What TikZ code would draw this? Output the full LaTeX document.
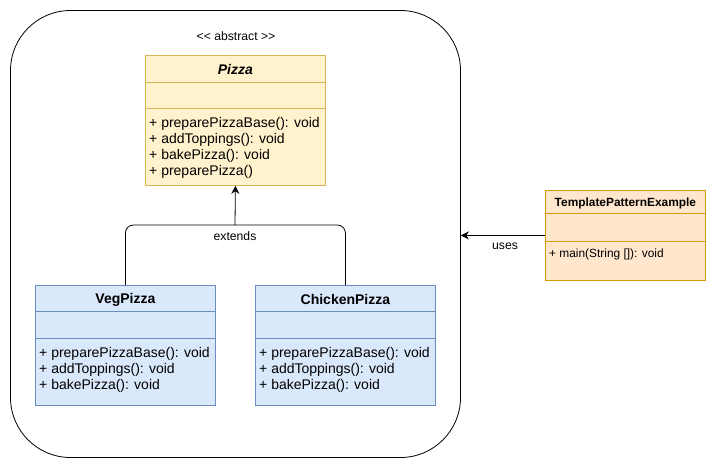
\documentclass[tikz,border=0pt]{standalone}
\usepackage{fontspec}
\setmainfont{Liberation Sans}
\usetikzlibrary{calc,arrows.meta}
\definecolor{pizzafill}{HTML}{FFF2CC}
\definecolor{pizzaline}{HTML}{D6B656}
\definecolor{bluefill}{HTML}{DAE8FC}
\definecolor{blueline}{HTML}{6C8EBF}
\definecolor{orfill}{HTML}{FFE6CC}
\definecolor{orline}{HTML}{D79B00}
\tikzset{
  classbox/.style={draw, anchor=north west, inner sep=0pt, line width=0.8pt},
  title/.style={font=\fontsize{14}{16}\selectfont\bfseries, anchor=center, inner sep=0pt},
  members/.style={font=\fontsize{14}{16}\selectfont, anchor=north west, align=left, inner sep=0pt},
  small title/.style={font=\fontsize{11.9}{14}\selectfont\bfseries, anchor=center, inner sep=0pt},
  small members/.style={font=\fontsize{11.9}{14}\selectfont, anchor=north west, align=left, inner sep=0pt},
  lbl/.style={font=\fontsize{12.2}{14}\selectfont, inner sep=0pt},
  conn/.style={line width=0.8pt},
  tip/.style={-{Stealth[length=8pt,width=8pt]}},
}
\begin{document}
\begin{tikzpicture}[x=1pt,y=-1pt]
\useasboundingbox (0,0) rectangle (716,471);
% frame
\node[draw, line width=0.8pt, rounded corners=60pt, minimum width=450pt, minimum height=447pt, inner sep=0pt] (frame) at (235.5,234) {};
\node[lbl] (abs) at (236,36) {<{}< abstract >{}>};
% Pizza
\node[classbox, draw=pizzaline, fill=pizzafill, minimum width=180pt, minimum height=130pt] (pizza) at (145,55) {};
\draw[pizzaline, line width=0.8pt] ($(pizza.north west)+(0,27)$) -- ($(pizza.north east)+(0,27)$);
\draw[pizzaline, line width=0.8pt] ($(pizza.north west)+(0,53)$) -- ($(pizza.north east)+(0,53)$);
\node[title, font=\fontsize{14}{16}\selectfont\bfseries\itshape] (pizzat) at ($(pizza.north)+(0,14)$) {Pizza};
\node[members] (pizzam) at ($(pizza.north west)+(4,62)$) {+ preparePizzaBase(): void\\+ addToppings(): void\\+ bakePizza(): void\\+ preparePizza()};
% VegPizza
\node[classbox, draw=blueline, fill=bluefill, minimum width=180pt, minimum height=120pt] (veg) at (35,285) {};
\draw[blueline, line width=0.8pt] ($(veg.north west)+(0,26)$) -- ($(veg.north east)+(0,26)$);
\draw[blueline, line width=0.8pt] ($(veg.north west)+(0,53)$) -- ($(veg.north east)+(0,53)$);
\node[title] (vegt) at ($(veg.north)+(0,14.5)$) {VegPizza};
\node[members] (vegm) at ($(veg.north west)+(4,62)$) {+ preparePizzaBase(): void\\+ addToppings(): void\\+ bakePizza(): void};
% ChickenPizza
\node[classbox, draw=blueline, fill=bluefill, minimum width=180pt, minimum height=120pt] (chick) at (255,285) {};
\draw[blueline, line width=0.8pt] ($(chick.north west)+(0,26)$) -- ($(chick.north east)+(0,26)$);
\draw[blueline, line width=0.8pt] ($(chick.north west)+(0,53)$) -- ($(chick.north east)+(0,53)$);
\node[title] (chickt) at ($(chick.north)+(0,14.5)$) {ChickenPizza};
\node[members] (chickm) at ($(chick.north west)+(4,62)$) {+ preparePizzaBase(): void\\+ addToppings(): void\\+ bakePizza(): void};
% TemplatePatternExample
\node[classbox, draw=orline, fill=orfill, minimum width=160pt, minimum height=90pt] (tpe) at (545,190) {};
\draw[orline, line width=0.8pt] ($(tpe.north west)+(0,23.5)$) -- ($(tpe.north east)+(0,23.5)$);
\draw[orline, line width=0.8pt] ($(tpe.north west)+(0,51)$) -- ($(tpe.north east)+(0,51)$);
\node[small title] (tpet) at ($(tpe.north)+(0,13)$) {TemplatePatternExample};
\node[small members] (tpem) at ($(tpe.north west)+(4,59)$) {+ main(String []): void};
% inheritance
\coordinate (bus) at (235,225);
\draw[conn, rounded corners=8pt] (veg.north) |- (bus);
\draw[conn, rounded corners=8pt] (chick.north) |- (bus);
\draw[conn, tip] (bus) -- (pizza.south);
\node[lbl] (ext) at (235,236.5) {extends};
% uses
\draw[conn, tip] (tpe.west) -- (frame.east |- tpe.west);
\node[lbl] (uses) at (505,246.5) {uses};
\end{tikzpicture}
\end{document}
